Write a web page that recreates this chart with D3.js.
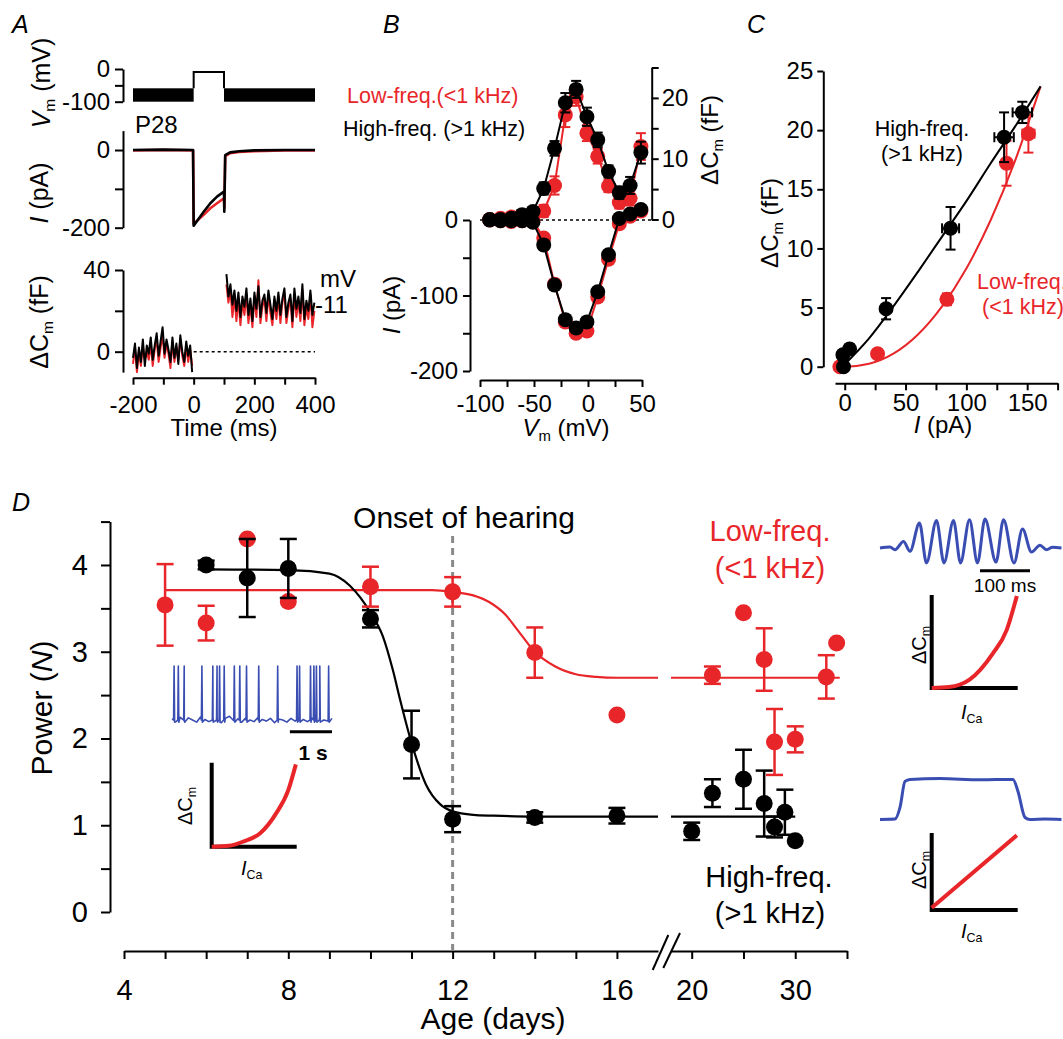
<!DOCTYPE html>
<html>
<head>
<meta charset="utf-8">
<script src="https://cdn.jsdelivr.net/npm/d3@7"></script>
<style>
  body { margin: 0; background: #fff; }
  svg { display: block; }
</style>
</head>
<body>
<svg id="fig" width="1063" height="1039"></svg>
<script>
// ---------------- Panel A data ----------------
const aTimeTicks = [-200, -100, 0, 100, 200, 300, 400];
const aVmBand = [-100, -59];          // sine stimulus envelope (mV)
const aPulse = [0, 100, -9];          // start (ms), end (ms), level (mV)
const aIBlack = [[-200,0],[-100,1],[-2,0],[0,-195],[33,-159],[55,-137],[77,-120],[100,-107],[101,-159],[104,-13],[120,-6],[150,-3],[200,-1],[300,0],[400,0]];
const aIRed   = [[-200,-1],[-100,0],[-2,-1],[0,-190],[33,-167],[55,-150],[77,-137],[100,-124],[101,-150],[104,-16],[120,-8],[150,-5],[200,-3],[300,-1],[400,-1]];
const aCmPreSpan = [-200, -5];
const aCmPostSpan = [108, 398];
const aCmBlackPre  = [-3,4,-8,2,-5,6,-7,3,-1,7,-4,3,9,-2,5,12,-1,6,1,-5,7,-3,4,-6,8,0,-5,5,-2,3,-10];
const aCmRedPre    = [-6,2,-10,0,-7,3,-4,0,-4,4,-7,1,6,-5,2,8,-3,4,-1,-8,5,-5,2,-4,6,-2,-7,3,-5,1,-7];
const aCmBlackPost = [38,27,33,23,30,20,29,17,27,22,31,18,26,15,29,21,32,17,25,28,19,30,23,16,27,20,29,18,26,31,17,24,28,15,31,21,27,19,33,16,25,20,30,18,24];
const aCmRedPost   = [33,24,30,17,27,15,26,13,24,18,28,14,23,12,27,17,35,14,22,26,15,28,19,13,25,16,27,14,24,29,14,21,26,12,28,17,25,15,30,13,22,16,28,12,20];

// ---------------- Panel B data ----------------
const bVm = [-91,-81,-71,-61,-51,-41,-31,-21,-11,-1,9,19,29,39,49];
const bIBlack  = [0,-1,-1,-1,-3,-33,-86,-132,-143,-135,-95,-46,2,8,14];
const bIRed    = [0,-1,-2,-1,-1,-24,-85,-135,-150,-147,-102,-52,-5,5,12];
const bIErrBlack = [1,1,1,1,2,3,4,5,5,5,4,4,3,3,3];
const bIErrRed   = [1,1,1,1,2,3,4,5,6,6,6,6,6,4,4];
const bCmBlack = [0,0,0.2,0.8,1.3,5.1,11.7,19.2,21.4,16.9,13.1,7.9,4.4,5.6,11.0];
const bCmRed   = [0,0.2,0.4,0.6,0.5,1.4,5.6,17.2,20.2,14.2,10.4,5.5,2.8,3.5,12.0];
const bCmErrBlack = [0.2,0.2,0.2,0.3,0.4,1.0,1.2,1.6,1.4,1.5,1.2,1.0,1.0,1.4,1.8];
const bCmErrRed   = [0.2,0.2,0.2,0.3,0.4,1.0,1.5,2.0,1.5,1.3,1.2,1.0,1.0,1.2,2.2];

// ---------------- Panel C data ----------------
const cIBlack  = [-1,-1.5,4,34,87,131,146];
const cCmBlack = [0,1.0,1.5,4.9,11.7,19.4,21.5];
const cIErrBlack  = [1,1,2,2,7,8,8];
const cCmErrBlack = [0.2,0.3,0.4,0.9,1.8,2.1,0.9];
const cIRed  = [-4,27,84,133,151];
const cCmRed = [0,1.1,5.7,17.2,19.7];
const cIErrRed  = [1,2,3,3,5];
const cCmErrRed = [0.2,0.3,0.5,1.9,1.6];
const cFitBlack = [[-2,0],[20,2.4],[40,5.1],[60,8.0],[80,11.0],[100,14.0],[120,17.2],[140,20.3],[161,23.7]];
const cFitRed   = [[-6,0],[0,0],[20,0.25],[40,1.1],[60,2.7],[80,5.1],[100,8.3],[120,12.4],[140,17.4],[161,23.7]];

// ---------------- Panel D data ----------------
const dDaysBlack  = [6,7,8,10,11,12,14,16,20,22,25,27,28,29,30];
const dPowerBlack = [4.0,3.85,3.96,3.38,1.93,1.07,1.09,1.11,0.93,1.37,1.53,1.25,0.98,1.15,0.82];
const dErrBlack   = [0.05,0.45,0.34,0.1,0.39,0.15,0.06,0.09,0.1,0.16,0.34,0.38,0.12,0.26,0];
const dDaysRed  = [5,6,7,8,10,12,14,16,22,25,27,28,30,33,34];
const dPowerRed = [3.54,3.33,4.3,3.58,3.75,3.69,2.99,2.27,2.73,3.45,2.91,1.96,1.99,2.71,3.1];
const dErrRed   = [0.47,0.2,0,0,0.23,0.17,0.29,0,0.1,0,0.36,0.38,0.15,0.25,0];
const dFitBlack = [[6,3.95],[8,3.94],[9,3.9],[9.5,3.76],[10,3.45],[10.3,3.18],[10.55,2.78],[10.72,2.45],[11,1.95],[11.35,1.47],[11.7,1.24],[12,1.16],[12.5,1.12],[13,1.11],[14,1.1],[17,1.1]];
const dFitBlackLate = [[18,1.1],[30,1.1]];
const dFitRed = [[5,3.71],[11.5,3.71],[12,3.69],[12.5,3.65],[12.9,3.57],[13.3,3.42],[13.55,3.27],[14,3.0],[14.5,2.83],[15,2.74],[15.5,2.71],[16,2.7],[17,2.7]];
const dFitRedLate = [[18,2.7],[34.3,2.7]];

// insets
const spikeTimes = [0.05,0.15,0.29,0.71,0.97,1.07,1.13,1.24,1.48,1.61,1.77,2.06,2.51,2.97,3.03,3.29,3.37,3.43,3.51,3.72];
const spikeBase  = [0.02,-0.03,0.05,-0.02,0.04,0.0,-0.04,0.06,0.01,-0.03,0.05,0.02,-0.05,0.03,0.07,-0.01,0.02,-0.04,0.04,0.0,
                    -0.03,0.05,0.01,-0.02,0.03,-0.05,0.02,0.0,-0.04,0.03,-0.02,0.05,0.01,-0.03,0.04,-0.01,0.06,0.0,-0.02,0.03];
const burstWave = [[0,0],[20,0.05],[30,-0.08],[47,0.31],[60,-0.16],[79,1.19],[93,-0.71],[113,1.31],[128,-0.71],[147,1.31],[161,-0.71],
                   [179,1.35],[195,-0.71],[210,1.38],[232,-0.67],[247,1.35],[268,-0.71],[285,0.9],[303,-0.19],[320,0.13],[333,-0.08],[345,0.03],[363,0]];
const plateauWave = [[0,0],[30,0.01],[40,0.3],[50,0.95],[60,1.0],[120,1.02],[200,0.99],[266,1.0],[276,0.7],[290,0.05],[300,0],[330,0.01],[363,0]];
const powerCurveLow  = [[0,0],[0.2,0.01],[0.37,0.06],[0.57,0.16],[0.76,0.40],[0.9,0.67],[0.99,0.98]];
const powerCurveHigh = [[0,0],[0.2,0.01],[0.44,0.09],[0.71,0.37],[0.87,0.62],[0.99,0.99]];
const linearCurve    = [[0,0.03],[0.99,0.97]];

const FONT = '"Liberation Sans", Arial, Helvetica, sans-serif';
const RED = '#e8262a', BLUE = '#3a4db2', GRAY = '#8a8a8a';

const svg = d3.select('#fig');
svg.append('rect').attr('width', 1063).attr('height', 1039).attr('fill', '#fff');

// text with italic / subscript parts
function label(x, y, parts, o) {
  o = o || {};
  var t = svg.append('text')
    .attr('font-family', FONT)
    .attr('font-size', o.size || 24)
    .attr('font-weight', o.weight || 'normal')
    .attr('fill', o.color || '#000')
    .attr('text-anchor', o.anchor || 'start');
  if (o.rotate) t.attr('transform', 'translate(' + x + ',' + y + ') rotate(' + o.rotate + ')');
  else t.attr('x', x).attr('y', y);
  var sub = false;
  parts.forEach(function(p) {
    var s = t.append('tspan').text(p[0]);
    if (p[1] === 'i') s.attr('font-style', 'italic');
    if (p[1] === 'sub' || p[1] === 'isub') {
      s.attr('font-size', '0.62em').attr('dy', '0.35em');
      if (p[1] === 'isub') s.attr('font-style', 'italic');
      sub = true;
    } else if (sub) {
      s.attr('dy', '-0.217em');
      sub = false;
    }
  });
  return t;
}

function styleAxis(g, size) {
  g.select('.domain').attr('stroke', '#000').attr('stroke-width', 2);
  g.selectAll('.tick line').attr('stroke', '#000').attr('stroke-width', 2);
  g.selectAll('.tick text').attr('font-family', FONT).attr('font-size', size).attr('fill', '#000');
}

function fmt(show) {
  return function(d) { return show.indexOf(d) >= 0 ? String(d) : ''; };
}

function errBars(g, xs, ys, xv, yv, ye, xe, color, cap, sw) {
  xv.forEach(function(x, i) {
    var px = xs(x), py = ys(yv[i]);
    if (ye && ye[i] > 0) {
      var y1 = ys(yv[i] - ye[i]), y2 = ys(yv[i] + ye[i]);
      g.append('line').attr('x1', px).attr('x2', px).attr('y1', y1).attr('y2', y2);
      g.append('line').attr('x1', px - cap/2).attr('x2', px + cap/2).attr('y1', y1).attr('y2', y1);
      g.append('line').attr('x1', px - cap/2).attr('x2', px + cap/2).attr('y1', y2).attr('y2', y2);
    }
    if (xe && xe[i] > 0) {
      var x1 = xs(x - xe[i]), x2 = xs(x + xe[i]);
      g.append('line').attr('x1', x1).attr('x2', x2).attr('y1', py).attr('y2', py);
      g.append('line').attr('x1', x1).attr('x2', x1).attr('y1', py - cap/2).attr('y2', py + cap/2);
      g.append('line').attr('x1', x2).attr('x2', x2).attr('y1', py - cap/2).attr('y2', py + cap/2);
    }
  });
  g.attr('stroke', color).attr('stroke-width', sw);
}

function dots(g, xs, ys, xv, yv, color, r) {
  g.selectAll('circle').data(xv).enter().append('circle')
    .attr('cx', function(d) { return xs(d); })
    .attr('cy', function(d, i) { return ys(yv[i]); })
    .attr('r', r).attr('fill', color);
}

function pathLine(xs, ys, pts, color, sw, curve) {
  var line = d3.line().x(function(d) { return xs(d[0]); }).y(function(d) { return ys(d[1]); });
  if (curve) line.curve(curve);
  return svg.append('path').datum(pts).attr('d', line)
    .attr('fill', 'none').attr('stroke', color).attr('stroke-width', sw)
    .attr('stroke-linejoin', 'round');
}

// panel letters
label(12, 33, [['A', 'i']], {size: 25});
label(383, 33, [['B', 'i']], {size: 25});
label(747, 33, [['C', 'i']], {size: 25});
label(12, 511, [['D', 'i']], {size: 25});

// ================= Panel A =================
const xA = d3.scaleLinear().domain([-200, 400]).range([133, 315]);
const yVm = d3.scaleLinear().domain([-100, 0]).range([101.7, 69]);
const yIA = d3.scaleLinear().domain([-200, 50]).range([227.7, 130.6]);
const yCmA = d3.scaleLinear().domain([-10, 40]).range([372.1, 270]);

styleAxis(svg.append('g').attr('transform', 'translate(123,0)')
  .call(d3.axisLeft(yVm).tickValues([-100, -50, 0]).tickSize(8).tickSizeOuter(0).tickPadding(5).tickFormat(fmt([-100, 0]))), 24);
styleAxis(svg.append('g').attr('transform', 'translate(123,0)')
  .call(d3.axisLeft(yIA).tickValues([-200, -100, 0]).tickSize(8).tickSizeOuter(0).tickPadding(5).tickFormat(fmt([-200, 0]))), 24);
styleAxis(svg.append('g').attr('transform', 'translate(123,0)')
  .call(d3.axisLeft(yCmA).tickValues([0, 20, 40]).tickSize(8).tickSizeOuter(0).tickPadding(5).tickFormat(fmt([0, 40]))), 24);
styleAxis(svg.append('g').attr('transform', 'translate(0,377.7)')
  .call(d3.axisBottom(xA).tickValues(aTimeTicks).tickSize(7).tickSizeOuter(0).tickPadding(11).tickFormat(fmt([-200, 0, 200, 400]))), 24);

// voltage protocol
svg.append('rect').attr('x', xA(-200)).attr('width', xA(0) - xA(-200))
  .attr('y', yVm(aVmBand[1])).attr('height', yVm(aVmBand[0]) - yVm(aVmBand[1])).attr('fill', '#000');
svg.append('rect').attr('x', xA(aPulse[1])).attr('width', xA(400) - xA(aPulse[1]))
  .attr('y', yVm(aVmBand[1])).attr('height', yVm(aVmBand[0]) - yVm(aVmBand[1])).attr('fill', '#000');
svg.append('path')
  .attr('d', 'M' + xA(aPulse[0]) + ',' + yVm(aVmBand[1]) + 'V' + yVm(aPulse[2]) + 'H' + xA(aPulse[1]) + 'V' + yVm(aVmBand[1]))
  .attr('fill', 'none').attr('stroke', '#000').attr('stroke-width', 2);

// current
pathLine(xA, yIA, aIRed, RED, 2.6);
pathLine(xA, yIA, aIBlack, '#000', 2.6);

// capacitance
function noisy(vals, span) {
  return vals.map(function(v, i) { return [span[0] + i * (span[1] - span[0]) / (vals.length - 1), v]; });
}
svg.append('line').attr('x1', xA(0)).attr('x2', xA(400)).attr('y1', yCmA(0)).attr('y2', yCmA(0))
  .attr('stroke', '#000').attr('stroke-width', 1.5).attr('stroke-dasharray', '3,3');
pathLine(xA, yCmA, noisy(aCmRedPre, aCmPreSpan), RED, 2);
pathLine(xA, yCmA, noisy(aCmBlackPre, aCmPreSpan), '#000', 2);
pathLine(xA, yCmA, noisy(aCmRedPost, aCmPostSpan), RED, 2);
pathLine(xA, yCmA, noisy(aCmBlackPost, aCmPostSpan), '#000', 2);

label(50, 83, [['V', 'i'], ['m', 'sub'], [' (mV)']], {size: 25, anchor: 'middle', rotate: -90});
label(48, 193, [['I', 'i'], [' (pA)']], {size: 25, anchor: 'middle', rotate: -90});
label(48, 322, [['\u0394C'], ['m', 'sub'], [' (fF)']], {size: 25, anchor: 'middle', rotate: -90});
label(224, 436, [['Time (ms)']], {size: 24, anchor: 'middle'});
label(135, 133, [['P28']], {size: 24});
label(320, 287, [['mV']], {size: 24});
label(315, 313, [['-11']], {size: 24});

// ================= Panel B =================
const xB = d3.scaleLinear().domain([-100, 50]).range([480, 642]);
const yBI = d3.scaleLinear().domain([-200, 0]).range([371, 220]);
const yBC = d3.scaleLinear().domain([0, 25]).range([219.5, 67.5]);

styleAxis(svg.append('g').attr('transform', 'translate(470,0)')
  .call(d3.axisLeft(yBI).tickValues([-200, -150, -100, -50, 0]).tickSize(7).tickSizeOuter(0).tickPadding(5).tickFormat(fmt([-200, -100, 0]))), 24);
styleAxis(svg.append('g').attr('transform', 'translate(651.7,0)')
  .call(d3.axisRight(yBC).tickValues([0, 5, 10, 15, 20, 25]).tickSize(7).tickSizeOuter(0).tickPadding(3).tickFormat(fmt([0, 10, 20]))), 24);
styleAxis(svg.append('g').attr('transform', 'translate(0,380)')
  .call(d3.axisBottom(xB).tickValues([-100, -75, -50, -25, 0, 25, 50]).tickSize(7).tickSizeOuter(0).tickPadding(8).tickFormat(fmt([-100, -50, 0, 50]))), 24);

svg.append('line').attr('x1', 480).attr('x2', 651.7).attr('y1', yBI(0)).attr('y2', yBI(0))
  .attr('stroke', '#000').attr('stroke-width', 1.5).attr('stroke-dasharray', '3,3');

function bSeries(yv, ye, ys, color) {
  pathLine(xB, ys, bVm.map(function(v, i) { return [v, yv[i]]; }), color, 2);
  errBars(svg.append('g'), xB, ys, bVm, yv, ye, null, color, 10, 2);
  dots(svg.append('g'), xB, ys, bVm, yv, color, 7.5);
}
bSeries(bIRed, bIErrRed, yBI, RED);
bSeries(bCmRed, bCmErrRed, yBC, RED);
bSeries(bIBlack, bIErrBlack, yBI, '#000');
bSeries(bCmBlack, bCmErrBlack, yBC, '#000');

label(347, 103, [['Low-freq.(<1 kHz)']], {size: 21.5, color: RED});
label(343, 136, [['High-freq. (>1 kHz)']], {size: 21.5});
label(400, 305, [['I', 'i'], [' (pA)']], {size: 24, anchor: 'middle', rotate: -90});
label(718, 140, [['\u0394C'], ['m', 'sub'], [' (fF)']], {size: 24, anchor: 'middle', rotate: -90});
label(566, 436, [['V', 'i'], ['m', 'sub'], [' (mV)']], {size: 24, anchor: 'middle'});

// ================= Panel C =================
const xC = d3.scaleLinear().domain([-8, 175]).range([835, 1057.6]);
const yC = d3.scaleLinear().domain([0, 25]).range([366.7, 71]);

styleAxis(svg.append('g').attr('transform', 'translate(823.3,0)')
  .call(d3.axisLeft(yC).tickValues([0, 5, 10, 15, 20, 25]).tickSize(6).tickSizeOuter(0).tickPadding(4).tickFormat(String)), 24);
styleAxis(svg.append('g').attr('transform', 'translate(0,383.3)')
  .call(d3.axisBottom(xC).tickValues([0, 25, 50, 75, 100, 125, 150, 175]).tickSize(7).tickSizeOuter(0).tickPadding(4).tickFormat(fmt([0, 50, 100, 150]))), 24);

pathLine(xC, yC, cFitRed, RED, 2, d3.curveMonotoneX);
pathLine(xC, yC, cFitBlack, '#000', 2, d3.curveMonotoneX);
errBars(svg.append('g'), xC, yC, cIRed, cCmRed, cCmErrRed, cIErrRed, RED, 10, 2);
dots(svg.append('g'), xC, yC, cIRed, cCmRed, RED, 7.5);
errBars(svg.append('g'), xC, yC, cIBlack, cCmBlack, cCmErrBlack, cIErrBlack, '#000', 10, 2);
dots(svg.append('g'), xC, yC, cIBlack, cCmBlack, '#000', 7.5);

label(922, 136, [['High-freq.']], {size: 21.5, anchor: 'middle'});
label(922, 161, [['(>1 kHz)']], {size: 21.5, anchor: 'middle'});
label(977, 289, [['Low-freq.']], {size: 21.5, color: RED});
label(982, 314, [['(<1 kHz)']], {size: 21.5, color: RED});
label(778, 223, [['\u0394C'], ['m', 'sub'], [' (fF)']], {size: 24, anchor: 'middle', rotate: -90});
label(943, 433, [['I', 'i'], [' (pA)']], {size: 24, anchor: 'middle'});

// ================= Panel D =================
const xD1 = d3.scaleLinear().domain([4, 17]).range([124, 658]);
const xD2 = d3.scaleLinear().domain([18, 35]).range([671, 847]);
const yD = d3.scaleLinear().domain([0, 4.5]).range([912, 521.6]);
function xD(d) { return d <= 17 ? xD1(d) : xD2(d); }

styleAxis(svg.append('g').attr('transform', 'translate(110,0)')
  .call(d3.axisLeft(yD).tickValues(d3.range(0, 4.51, 0.5)).tickSize(9).tickSizeOuter(0).tickPadding(13).tickFormat(fmt([0, 1, 2, 3, 4]))), 29);
styleAxis(svg.append('g').attr('transform', 'translate(0,951)')
  .call(d3.axisBottom(xD1).tickValues(d3.range(4, 17)).tickSize(8).tickSizeOuter(0).tickPadding(20).tickFormat(fmt([4, 8, 12, 16]))), 29);
styleAxis(svg.append('g').attr('transform', 'translate(0,951)')
  .call(d3.axisBottom(xD2).tickValues([20, 25, 30, 35]).tickSize(8).tickSizeOuter(0).tickPadding(20).tickFormat(fmt([20, 30]))), 29);
// axis break
svg.append('rect').attr('x', 659).attr('y', 945).attr('width', 11).attr('height', 12).attr('fill', '#fff');
[[652.7, 970, 668.3, 935], [663.3, 968, 680, 933]].forEach(function(s) {
  svg.append('line').attr('x1', s[0]).attr('y1', s[1]).attr('x2', s[2]).attr('y2', s[3])
    .attr('stroke', '#000').attr('stroke-width', 2);
});

// onset of hearing
svg.append('line').attr('x1', xD1(12)).attr('x2', xD1(12)).attr('y1', 536).attr('y2', 951)
  .attr('stroke', GRAY).attr('stroke-width', 3).attr('stroke-dasharray', '7,5');
label(464, 528, [['Onset of hearing']], {size: 30, anchor: 'middle'});

// fits
pathLine(xD1, yD, dFitRed, RED, 2.2, d3.curveMonotoneX);
pathLine(xD2, yD, dFitRedLate, RED, 2.2);
pathLine(xD1, yD, dFitBlack, '#000', 2.2, d3.curveMonotoneX);
pathLine(xD2, yD, dFitBlackLate, '#000', 2.2);

// points
const dxs = {__proto__: null};
const xDs = function(d) { return xD(d); };
errBars(svg.append('g'), xDs, yD, dDaysRed, dPowerRed, dErrRed, null, RED, 17, 2.5);
dots(svg.append('g'), xDs, yD, dDaysRed, dPowerRed, RED, 8.5);
errBars(svg.append('g'), xDs, yD, dDaysBlack, dPowerBlack, dErrBlack, null, '#000', 17, 2.5);
dots(svg.append('g'), xDs, yD, dDaysBlack, dPowerBlack, '#000', 8.5);

label(770, 541, [['Low-freq.']], {size: 29, anchor: 'middle', color: RED});
label(770, 578, [['(<1 kHz)']], {size: 29, anchor: 'middle', color: RED});
label(769, 887, [['High-freq.']], {size: 29, anchor: 'middle'});
label(770, 923, [['(>1 kHz)']], {size: 29, anchor: 'middle'});
label(52, 708, [['Power ('], ['N', 'i'], [')']], {size: 30, anchor: 'middle', rotate: -90});
label(493, 1029, [['Age (days)']], {size: 30, anchor: 'middle'});

// ---- left inset: spike train ----
const xS = d3.scaleLinear().domain([0, 3.8]).range([172, 332]);
const yS = d3.scaleLinear().domain([0, 1]).range([720, 666]);
var spikePts = spikeBase.map(function(v, i) { return [i * 3.8 / (spikeBase.length - 1), v]; });
spikeTimes.forEach(function(t) { spikePts.push([t - 0.012, 0.0], [t, 1.0], [t + 0.012, -0.04]); });
spikePts.sort(function(a, b) { return a[0] - b[0]; });
pathLine(xS, yS, spikePts, BLUE, 1.6);
svg.append('line').attr('x1', xS(2.8)).attr('x2', xS(3.8)).attr('y1', 731.7).attr('y2', 731.7)
  .attr('stroke', '#000').attr('stroke-width', 3);
label(313, 760, [['1 s']], {size: 21, anchor: 'middle', weight: 'bold'});

function miniAxes(ox, oy, w, h, curve, curveFn) {
  var xs = d3.scaleLinear().domain([0, 1]).range([ox, ox + w]);
  var ys = d3.scaleLinear().domain([0, 1]).range([oy, oy - h]);
  svg.append('path').attr('d', 'M' + ox + ',' + (oy - h) + 'V' + oy + 'H' + (ox + w))
    .attr('fill', 'none').attr('stroke', '#000').attr('stroke-width', 4);
  pathLine(xs, ys, curve, RED, 4, curveFn);
}
miniAxes(211.7, 846.7, 85, 84, powerCurveLow, d3.curveMonotoneX);
label(192, 806, [['\u0394C'], ['m', 'sub']], {size: 20, anchor: 'middle', rotate: -90});
label(241, 875, [['I', 'i'], ['Ca', 'sub']], {size: 20});

// ---- right insets ----
const xW = d3.scaleLinear().domain([0, 360]).range([880, 1060]);
const yW = d3.scaleLinear().domain([-1, 1]).range([569, 527]);
pathLine(xW, yW, burstWave, BLUE, 3, d3.curveMonotoneX);
svg.append('line').attr('x1', xW(200)).attr('x2', xW(300)).attr('y1', 570.7).attr('y2', 570.7)
  .attr('stroke', '#000').attr('stroke-width', 3);
label(1005, 592, [['100 ms']], {size: 19, anchor: 'middle'});

miniAxes(931.7, 688, 86, 93, powerCurveHigh, d3.curveMonotoneX);
label(926, 645, [['\u0394C'], ['m', 'sub']], {size: 20, anchor: 'middle', rotate: -90});
label(961, 719, [['I', 'i'], ['Ca', 'sub']], {size: 20});

const yP = d3.scaleLinear().domain([0, 1]).range([819.5, 779.4]);
pathLine(xW, yP, plateauWave, BLUE, 3, d3.curveMonotoneX);

miniAxes(931.7, 910, 86, 77, linearCurve);
label(926, 870, [['\u0394C'], ['m', 'sub']], {size: 20, anchor: 'middle', rotate: -90});
label(961, 938, [['I', 'i'], ['Ca', 'sub']], {size: 20});
</script>
</body>
</html>
